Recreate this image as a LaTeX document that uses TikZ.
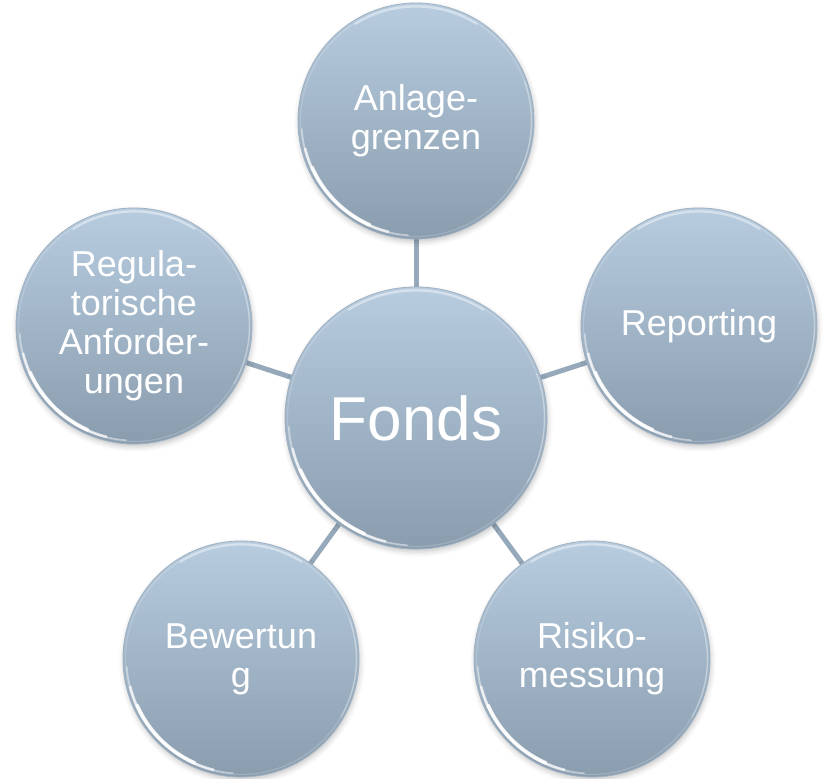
\documentclass[tikz,border=0pt]{standalone}
\usepackage{fontspec}
\setmainfont{Liberation Sans}
\usetikzlibrary{shadows.blur,backgrounds}
\definecolor{ctop}{HTML}{B7CCDF}
\definecolor{cbot}{HTML}{8A9DAF}
\definecolor{cline}{HTML}{95A9BB}
\definecolor{cedge}{HTML}{9FB1C2}
\newcommand\mygloss[2]{%
  \draw[white, opacity=.18, line width=1.2pt] (#1.center) circle[radius=#2-2.5];
  \draw[white, opacity=.45, line width=1.5pt, line cap=round] ([shift={(184:#2-3.5)}]#1.center) arc[start angle=184, end angle=266, radius=#2-3.5];
  \draw[white, opacity=.7, line width=2.6pt, line cap=round] ([shift={(194:#2-3.8)}]#1.center) arc[start angle=194, end angle=256, radius=#2-3.8];
  \draw[white, opacity=.9, line width=3.6pt, line cap=round] ([shift={(204:#2-4.2)}]#1.center) arc[start angle=204, end angle=246, radius=#2-4.2];
  \draw[white, opacity=.4, line width=2.2pt, line cap=round] ([shift={(58:#2-3.5)}]#1.center) arc[start angle=58, end angle=122, radius=#2-3.5];
  \draw[white, opacity=.25, line width=1.5pt, line cap=round] ([shift={(-30:#2-2.5)}]#1.center) arc[start angle=-30, end angle=20, radius=#2-2.5];
}
\begin{document}
\begin{tikzpicture}[x=1pt,y=1pt,
  bubble/.style={circle, minimum size=236pt, inner sep=0pt, align=center, text=white,
    top color=ctop, bottom color=cbot, draw=cedge, line width=0.8pt,
    font=\fontsize{36}{39}\selectfont,
    blur shadow={shadow xshift=1pt, shadow yshift=-3pt, shadow blur radius=5pt, shadow opacity=22}},
  hub/.style={bubble, minimum size=262pt, font=\fontsize{62}{70}\selectfont},
  link/.style={line width=5pt, draw=cline}
]
\useasboundingbox (0,0) rectangle (823,779);
\node[hub] (fonds) at (416,361) {Fonds};
\node[bubble] (anl) at (416,658) {Anlage-\\grenzen};
\node[bubble] (rep) at (699,453) {Reporting};
\node[bubble] (ris) at (592,120) {Risiko-\\messung};
\node[bubble] (bew) at (241,120) {Bewertun\\g};
\node[bubble] (reg) at (134,453) {Regula-\\torische\\Anforder-\\ungen};
\begin{scope}[on background layer]
  \draw[link] (fonds.center) -- (anl.center);
  \draw[link] (fonds.center) -- (rep.center);
  \draw[link] (fonds.center) -- (ris.center);
  \draw[link] (fonds.center) -- (bew.center);
  \draw[link] (fonds.center) -- (reg.center);
\end{scope}
\mygloss{fonds}{131}
\mygloss{anl}{118}
\mygloss{rep}{118}
\mygloss{ris}{118}
\mygloss{bew}{118}
\mygloss{reg}{118}
\end{tikzpicture}
\end{document}
